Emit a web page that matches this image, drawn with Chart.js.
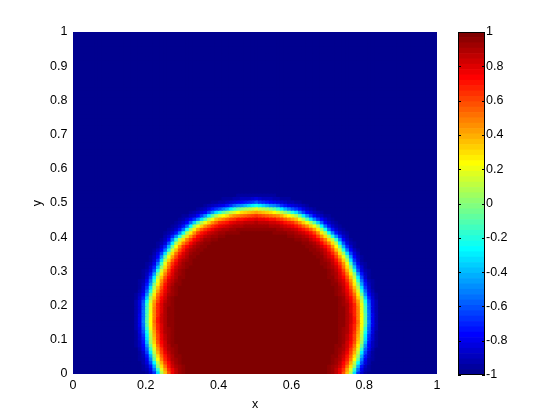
<!DOCTYPE html>
<html>
<head>
<meta charset="utf-8">
<script src="https://cdn.jsdelivr.net/npm/chart.js@4"></script>
<style>
  html, body { margin: 0; padding: 0; background: #fff; }
  #wrap { position: relative; width: 560px; height: 420px; }
  #wrap canvas { position: absolute; top: 0; }
  #field { left: 0; }
  #bar { left: 440px; }
</style>
</head>
<body>
<div id="wrap">
  <canvas id="field" width="560" height="420"></canvas>
  <canvas id="bar" width="120" height="420"></canvas>
</div>
<script>
// Axis ticks
const xTicks = [0, 0.2, 0.4, 0.6, 0.8, 1];
const yTicks = [0, 0.1, 0.2, 0.3, 0.4, 0.5, 0.6, 0.7, 0.8, 0.9, 1];
const colorTicks = [-1, -0.8, -0.6, -0.4, -0.2, 0, 0.2, 0.4, 0.6, 0.8, 1];
const colorMin = -1, colorMax = 1;

// Drop outline (the yellow line): height and half width
const dropCenterX = 0.505;
const contourY    = [0.482, 0.474, 0.459, 0.430, 0.386, 0.339, 0.281, 0.210, 0.152, 0.094, 0.047, 0.006];
const contourHalf = [0.000, 0.055, 0.110, 0.165, 0.212, 0.242, 0.266, 0.288, 0.290, 0.283, 0.270, 0.254];
const contourLevel = 0.25;   // phase value along that line
const innerWidth = 0.033;    // interface thickness inside / outside the drop
const outerWidth = 0.02;
const gridN = 100;           // 100 x 100 cells

const font = { family: "'Liberation Sans', Arial, sans-serif", size: 12.5 };

// MATLAB jet(64)
function jet(m) {
    const n = Math.ceil(m / 4);
    const u = [];
    for (let i = 1; i <= n; i++) u.push(i / n);
    for (let i = 1; i < n; i++) u.push(1);
    for (let i = n; i >= 1; i--) u.push(i / n);
    const off = Math.ceil(n / 2) - (m % 4 === 1 ? 1 : 0);
    const J = Array.from({ length: m }, () => [0, 0, 0]);
    u.forEach((val, k) => {
        const g = off + k + 1, r = g + n, b = g - n;
        if (r <= m) J[r - 1][0] = val;
        if (g <= m) J[g - 1][1] = val;
        if (b >= 1) J[b - 1][2] = val;
    });
    return J.map(c => `rgb(${Math.round(c[0] * 255)},${Math.round(c[1] * 255)},${Math.round(c[2] * 255)})`);
}
const jetColors = jet(64);

function colorFor(v) {
    const k = Math.floor((v - colorMin) / (colorMax - colorMin) * jetColors.length);
    return jetColors[Math.min(jetColors.length - 1, Math.max(0, k))];
}

// outline polyline: right side bottom -> top, then left side top -> bottom
const rightSide = contourY.map((y, k) => [dropCenterX + contourHalf[k], y]).reverse();
const leftSide = contourY.map((y, k) => [dropCenterX - contourHalf[k], y]);
const outline = rightSide.concat(leftSide.slice(1));

function segDist(px, py, a, b) {
    const dx = b[0] - a[0], dy = b[1] - a[1];
    const len = dx * dx + dy * dy;
    let t = len ? ((px - a[0]) * dx + (py - a[1]) * dy) / len : 0;
    t = Math.max(0, Math.min(1, t));
    return Math.hypot(px - a[0] - t * dx, py - a[1] - t * dy);
}

function halfAt(y) {
    if (y > contourY[0]) return -1;
    for (let k = 0; k < contourY.length - 1; k++) {
        if (y <= contourY[k] && y >= contourY[k + 1]) {
            const f = (contourY[k] - y) / (contourY[k] - contourY[k + 1]);
            return contourHalf[k] + f * (contourHalf[k + 1] - contourHalf[k]);
        }
    }
    return contourHalf[contourHalf.length - 1];
}

function phaseAt(x, y) {
    let d = Infinity;
    for (let k = 0; k < outline.length - 1; k++) d = Math.min(d, segDist(x, y, outline[k], outline[k + 1]));
    if (Math.abs(x - dropCenterX) >= halfAt(y)) d = -d;
    const base = Math.atanh(contourLevel);
    let t = base + d / innerWidth;
    if (t < 0) t = (d + base * innerWidth) / outerWidth;
    return Math.tanh(t);
}

const cells = [], cellColors = [];
for (let j = 0; j < gridN; j++) {
    for (let i = 0; i < gridN; i++) {
        const x = (i + 0.5) / gridN, y = (j + 0.5) / gridN;
        cells.push({ x, y });
        cellColors.push(colorFor(phaseAt(x, y)));
    }
}

// square cell a bit larger than the grid step so neighbours cover the seams
const cellRadius = ctx => {
    const a = ctx.chart.chartArea;
    return a ? ((a.right - a.left) / gridN + 1.4) / Math.SQRT2 : 3;
};

new Chart(document.getElementById('field'), {
    type: 'scatter',
    data: {
        datasets: [{
            data: cells,
            backgroundColor: cellColors,
            borderWidth: 0,
            pointStyle: 'rect',
            pointRadius: cellRadius,
            pointHoverRadius: cellRadius,
            clip: 0
        }]
    },
    options: {
        responsive: false, animation: false, events: [],
        layout: { padding: { left: 0, top: 32, right: 123, bottom: 0 } },
        plugins: { legend: { display: false }, tooltip: { enabled: false } },
        scales: {
            x: {
                type: 'linear', min: 0, max: 1,
                grid: { display: false, drawTicks: false }, border: { display: false },
                afterBuildTicks: s => { s.ticks = xTicks.map(v => ({ value: v })); },
                afterFit: s => { s.height = 46; },
                ticks: { padding: 4, color: '#000', font, maxRotation: 0, autoSkip: false, callback: v => String(v) },
                title: { display: true, text: 'x', color: '#000', font, padding: { top: 0, bottom: 8 } }
            },
            y: {
                type: 'linear', min: 0, max: 1,
                grid: { display: false, drawTicks: false }, border: { display: false },
                afterBuildTicks: s => { s.ticks = yTicks.map(v => ({ value: v })); },
                afterFit: s => { s.width = 73; },
                ticks: { padding: 5.5, color: '#000', font, autoSkip: false, callback: v => String(v) },
                title: { display: true, text: 'y', color: '#000', font, padding: { top: 30.5, bottom: 0 } }
            }
        }
    }
});

// Colorbar
const barFrame = {
    id: 'barFrame',
    afterDatasetsDraw(chart) {
        const { ctx, chartArea: a, scales: { y } } = chart;
        ctx.save();
        ctx.strokeStyle = '#000';
        ctx.lineWidth = 1;
        ctx.strokeRect(a.left + 0.5, a.top + 0.5, a.right - a.left - 1, a.bottom - a.top - 1);
        ctx.beginPath();
        colorTicks.forEach(v => {
            const py = Math.round(y.getPixelForValue(v)) + 0.5;
            ctx.moveTo(a.left, py); ctx.lineTo(a.left + 3, py);
            ctx.moveTo(a.right - 3, py); ctx.lineTo(a.right, py);
        });
        ctx.stroke();
        ctx.restore();
    }
};

const step = (colorMax - colorMin) / jetColors.length;
new Chart(document.getElementById('bar'), {
    type: 'bar',
    data: {
        labels: [''],
        datasets: jetColors.map((c, k) => ({
            data: [[colorMin + k * step, colorMin + (k + 1) * step]],
            backgroundColor: c,
            borderWidth: 0,
            barPercentage: 1,
            categoryPercentage: 1,
            grouped: false
        }))
    },
    options: {
        responsive: false, animation: false, events: [],
        layout: { padding: { left: 18, top: 32, right: 0, bottom: 45 } },
        plugins: { legend: { display: false }, tooltip: { enabled: false } },
        scales: {
            x: { display: false },
            y: {
                position: 'right', min: colorMin, max: colorMax,
                grid: { display: false, drawTicks: false }, border: { display: false },
                afterBuildTicks: s => { s.ticks = colorTicks.map(v => ({ value: v })); },
                afterFit: s => { s.width = 75; },
                ticks: { padding: 1, color: '#000', font, autoSkip: false, callback: v => String(v) }
            }
        }
    },
    plugins: [barFrame]
});
</script>
</body>
</html>
